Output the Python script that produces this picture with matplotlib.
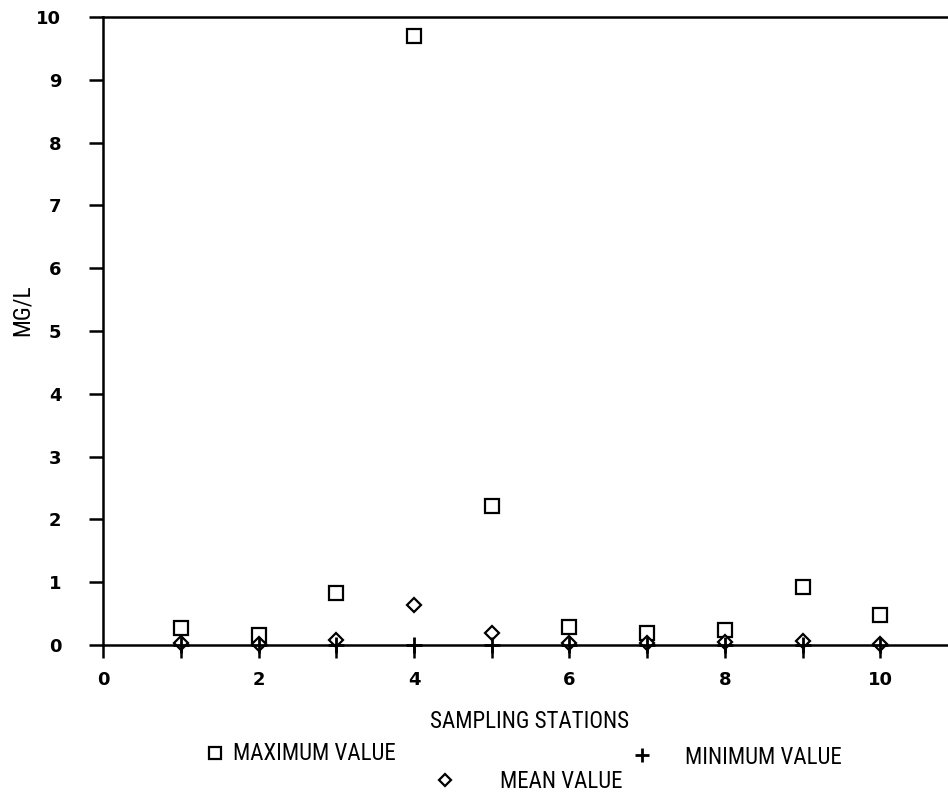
import matplotlib.pyplot as plt
from matplotlib.ticker import MultipleLocator, FuncFormatter
from matplotlib.lines import Line2D

narrow = ['Roboto Condensed', 'DejaVu Sans Condensed', 'Liberation Sans Narrow', 'Roboto', 'DejaVu Sans']
plt.rcParams['font.family'] = narrow

# concentrations per sampling station (mg/l)
stations = [1, 2, 3, 4, 5, 6, 7, 8, 9, 10]
max_value = [0.27, 0.16, 0.83, 9.70, 2.21, 0.29, 0.19, 0.24, 0.92, 0.48]
mean_value = [0.03, 0.02, 0.08, 0.64, 0.19, 0.03, 0.03, 0.05, 0.07, 0.02]
min_value = [0.0, 0.0, 0.0, 0.0, 0.0, 0.0, 0.0, 0.0, 0.0, 0.0]

W, H = 948, 794
fig = plt.figure(figsize=(W / 100, H / 100), dpi=100)
ax = fig.add_axes([0.1087, 0.1877, 1.0 - 0.1087, 0.791])

ax.plot(stations, max_value, ls='none', marker='s', ms=9.5, mfc='white',
        mec='black', mew=1.6, clip_on=False, zorder=3)
ax.plot(stations, mean_value, ls='none', marker='D', ms=7, mfc='white',
        mec='black', mew=1.6, clip_on=False, zorder=4)
ax.plot(stations, min_value, ls='none', marker='+', ms=11, mec='black',
        mew=2.0, clip_on=False, zorder=5)

ax.set_xlim(0, 10.87)
ax.set_ylim(0, 10)
ax.spines['right'].set_visible(False)
for s in ('left', 'bottom', 'top'):
    ax.spines[s].set_linewidth(1.8)

ax.xaxis.set_major_locator(MultipleLocator(1))
ax.xaxis.set_major_formatter(FuncFormatter(lambda v, p: '%d' % v if int(round(v)) % 2 == 0 else ''))
ax.yaxis.set_major_locator(MultipleLocator(1))
ax.tick_params(axis='both', direction='out', width=1.8, labelsize=13)
ax.tick_params(axis='y', length=10, pad=20)
ax.tick_params(axis='x', length=9, pad=10)
for lab in ax.get_xticklabels() + ax.get_yticklabels():
    lab.set_fontweight('bold')
    lab.set_family(['DejaVu Sans'])


def fx(px):
    return px / W


def fy(py):
    return 1 - py / H


fig.text(fx(22), fy(310), 'MG/L', fontsize=17, rotation=90, ha='center', va='center')
fig.text(fx(530), fy(722), 'SAMPLING STATIONS', fontsize=16.5, ha='center', va='center')

# legend laid out below the axis title
fig.add_artist(Line2D([fx(215)], [fy(753)], transform=fig.transFigure, marker='s', ms=8,
                      mfc='white', mec='black', mew=1.6, ls='none'))
fig.text(fx(314), fy(754), 'MAXIMUM VALUE', fontsize=16.5, ha='center', va='center')
fig.add_artist(Line2D([fx(642)], [fy(755)], transform=fig.transFigure, marker='+', ms=10,
                      mec='black', mew=2.0, ls='none'))
fig.text(fx(763), fy(757), 'MINIMUM VALUE', fontsize=16.5, ha='center', va='center')
fig.add_artist(Line2D([fx(445)], [fy(780)], transform=fig.transFigure, marker='D', ms=6,
                      mfc='white', mec='black', mew=1.6, ls='none'))
fig.text(fx(561), fy(782), 'MEAN VALUE', fontsize=16.5, ha='center', va='center')

fig.savefig('out.png', dpi=100)
